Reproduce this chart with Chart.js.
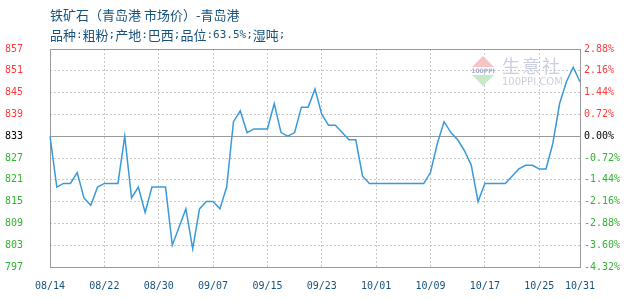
<!DOCTYPE html>
<html>
<head>
<meta charset="utf-8">
<script src="https://cdn.jsdelivr.net/npm/chart.js@4/dist/chart.umd.min.js"></script>
<style>
  html, body { margin: 0; padding: 0; background: #fff; }
</style>
</head>
<body>
<canvas id="price" width="630" height="300"></canvas>
<script>
const titleText = '铁矿石（青岛港 市场价）-青岛港';
const subtitleText = '品种:粗粉;产地:巴西;品位:63.5%;湿吨;';

const dates = [
    '08/14', '08/15', '08/16', '08/17', '08/18', '08/19', '08/20', '08/21', '08/22', '08/23',
    '08/24', '08/25', '08/26', '08/27', '08/28', '08/29', '08/30', '08/31',
    '09/01', '09/02', '09/03', '09/04', '09/05', '09/06', '09/07', '09/08', '09/09', '09/10',
    '09/11', '09/12', '09/13', '09/14', '09/15', '09/16', '09/17', '09/18', '09/19', '09/20',
    '09/21', '09/22', '09/23', '09/24', '09/25', '09/26', '09/27', '09/28', '09/29', '09/30',
    '10/01', '10/02', '10/03', '10/04', '10/05', '10/06', '10/07', '10/08', '10/09', '10/10',
    '10/11', '10/12', '10/13', '10/14', '10/15', '10/16', '10/17', '10/18', '10/19', '10/20',
    '10/21', '10/22', '10/23', '10/24', '10/25', '10/26', '10/27', '10/28', '10/29', '10/30',
    '10/31'
];

// 元/吨
const prices = [
    833, 819, 820, 820, 823, 816, 814, 819, 820, 820,
    820, 833, 816, 819, 812, 819, 819, 819, 803, 808,
    813, 802, 813, 815, 815, 813, 819, 837, 840, 834,
    835, 835, 835, 842, 834, 833, 834, 841, 841, 846,
    839, 836, 836, 834, 832, 832, 822, 820, 820, 820,
    820, 820, 820, 820, 820, 820, 823, 831, 837, 834,
    832, 829, 825, 815, 820, 820, 820, 820, 822, 824,
    825, 825, 824, 824, 831, 842, 848, 852, 848
];

const basePrice = 833;
const priceTicks = [797, 803, 809, 815, 821, 827, 833, 839, 845, 851, 857];
const dateTicks = ['08/14', '08/22', '08/30', '09/07', '09/15', '09/23', '10/01', '10/09', '10/17', '10/25', '10/31'];

const upColor = '#ff3b3b';
const downColor = '#33b233';
const navy = '#17527d';

function tickColor(ctx) {
    const v = ctx.tick ? ctx.tick.value : 0;
    if (Math.abs(v - basePrice) < 1e-6 || Math.abs(v) < 1e-6) return '#000';
    if (ctx.scale.id === 'y') return v > basePrice ? upColor : downColor;
    return v > 0 ? upColor : downColor;
}

// CJK in a CJK font, ascii in a half-width mono font (like the original bitmap font)
function mixedText(ctx, text, x, y) {
    for (const ch of text) {
        ctx.font = ch.charCodeAt(0) < 128 ? '11px "DejaVu Sans Mono"' : '13px "Noto Sans CJK SC"';
        ctx.fillText(ch, x, y);
        x += ctx.measureText(ch).width;
    }
}

// frame, zero line, watermark and titles
const decor = {
    id: 'decor',
    beforeDatasetsDraw(chart) {
        const { ctx, chartArea: a, scales } = chart;
        ctx.save();

        // 生意社 watermark
        ctx.fillStyle = '#f7c4c4';
        ctx.beginPath();
        ctx.moveTo(483, 56); ctx.lineTo(494, 67); ctx.lineTo(472, 67);
        ctx.closePath(); ctx.fill();
        ctx.fillStyle = '#c8e9c8';
        ctx.beginPath();
        ctx.moveTo(472, 75); ctx.lineTo(494, 75); ctx.lineTo(483, 86);
        ctx.closePath(); ctx.fill();
        ctx.fillStyle = '#a3acd0';
        ctx.font = 'bold 6px "DejaVu Sans"';
        ctx.textAlign = 'center';
        ctx.textBaseline = 'middle';
        ctx.fillText('100PPI', 483, 71);
        ctx.fillStyle = '#cbcfe3';
        ctx.font = '18px "Noto Sans CJK SC"';
        ctx.textAlign = 'left';
        ['生', '意', '社'].forEach((ch, i) => ctx.fillText(ch, 502 + i * 20, 66));
        ctx.fillStyle = '#cdd0dc';
        ctx.font = '10px "DejaVu Sans"';
        ctx.fillText('100PPI.COM', 502, 82);

        ctx.strokeStyle = '#9a9a9a';
        ctx.lineWidth = 1;
        const y0 = Math.round(scales.y.getPixelForValue(basePrice)) + 0.5;
        ctx.beginPath();
        ctx.moveTo(a.left, y0);
        ctx.lineTo(a.right, y0);
        ctx.stroke();
        ctx.strokeRect(Math.round(a.left) + 0.5, Math.round(a.top) + 0.5,
            Math.round(a.right - a.left), Math.round(a.bottom - a.top));
        ctx.restore();
    },
    afterDraw(chart) {
        const { ctx } = chart;
        ctx.save();
        ctx.fillStyle = navy;
        ctx.textBaseline = 'middle';
        ctx.font = '13px "Noto Sans CJK SC"';
        ctx.fillText(titleText, 50, 15);
        mixedText(ctx, subtitleText, 50, 35);
        ctx.restore();
    }
};

const tickFont = { family: '"DejaVu Sans Mono", monospace', size: 10 };

new Chart(document.getElementById('price').getContext('2d'), {
    type: 'line',
    data: {
        labels: dates,
        datasets: [{
            data: prices,
            borderColor: '#3a9ad9',
            borderWidth: 1.5,
            pointRadius: 0,
            tension: 0,
            fill: false
        }]
    },
    options: {
        responsive: false,
        animation: false,
        devicePixelRatio: 1,
        layout: { padding: { top: 49, left: 0, right: 0, bottom: 0 } },
        plugins: { legend: { display: false }, tooltip: { enabled: false } },
        scales: {
            x: {
                type: 'category',
                offset: false,
                grid: { color: '#c8c8c8', drawTicks: false },
                border: { display: false, dash: [2, 2] },
                ticks: {
                    autoSkip: false,
                    maxRotation: 0,
                    padding: 13,
                    color: navy,
                    font: tickFont,
                    callback: function (value, index) {
                        const d = dates[index];
                        return dateTicks.includes(d) ? d : null;
                    }
                },
                afterFit(scale) { scale.height = 30; }
            },
            y: {
                position: 'left',
                min: priceTicks[0],
                max: priceTicks[priceTicks.length - 1],
                grid: { color: '#c8c8c8', drawTicks: false },
                border: { display: false, dash: [2, 2] },
                afterBuildTicks(scale) { scale.ticks = priceTicks.map(v => ({ value: v })); },
                ticks: {
                    padding: 27,
                    color: tickColor,
                    font: tickFont,
                    callback: v => String(v)
                },
                afterFit(scale) { scale.width = 50; }
            },
            y1: {
                position: 'right',
                min: (priceTicks[0] - basePrice) / basePrice * 100,
                max: (priceTicks[priceTicks.length - 1] - basePrice) / basePrice * 100,
                grid: { drawOnChartArea: false, drawTicks: false },
                border: { display: false },
                afterBuildTicks(scale) {
                    scale.ticks = priceTicks.map(v => ({ value: (v - basePrice) / basePrice * 100 }));
                },
                ticks: {
                    padding: 4,
                    color: tickColor,
                    font: tickFont,
                    callback: v => v.toFixed(2) + '%'
                },
                afterFit(scale) { scale.width = 50; }
            }
        }
    },
    plugins: [decor]
});
</script>
</body>
</html>
